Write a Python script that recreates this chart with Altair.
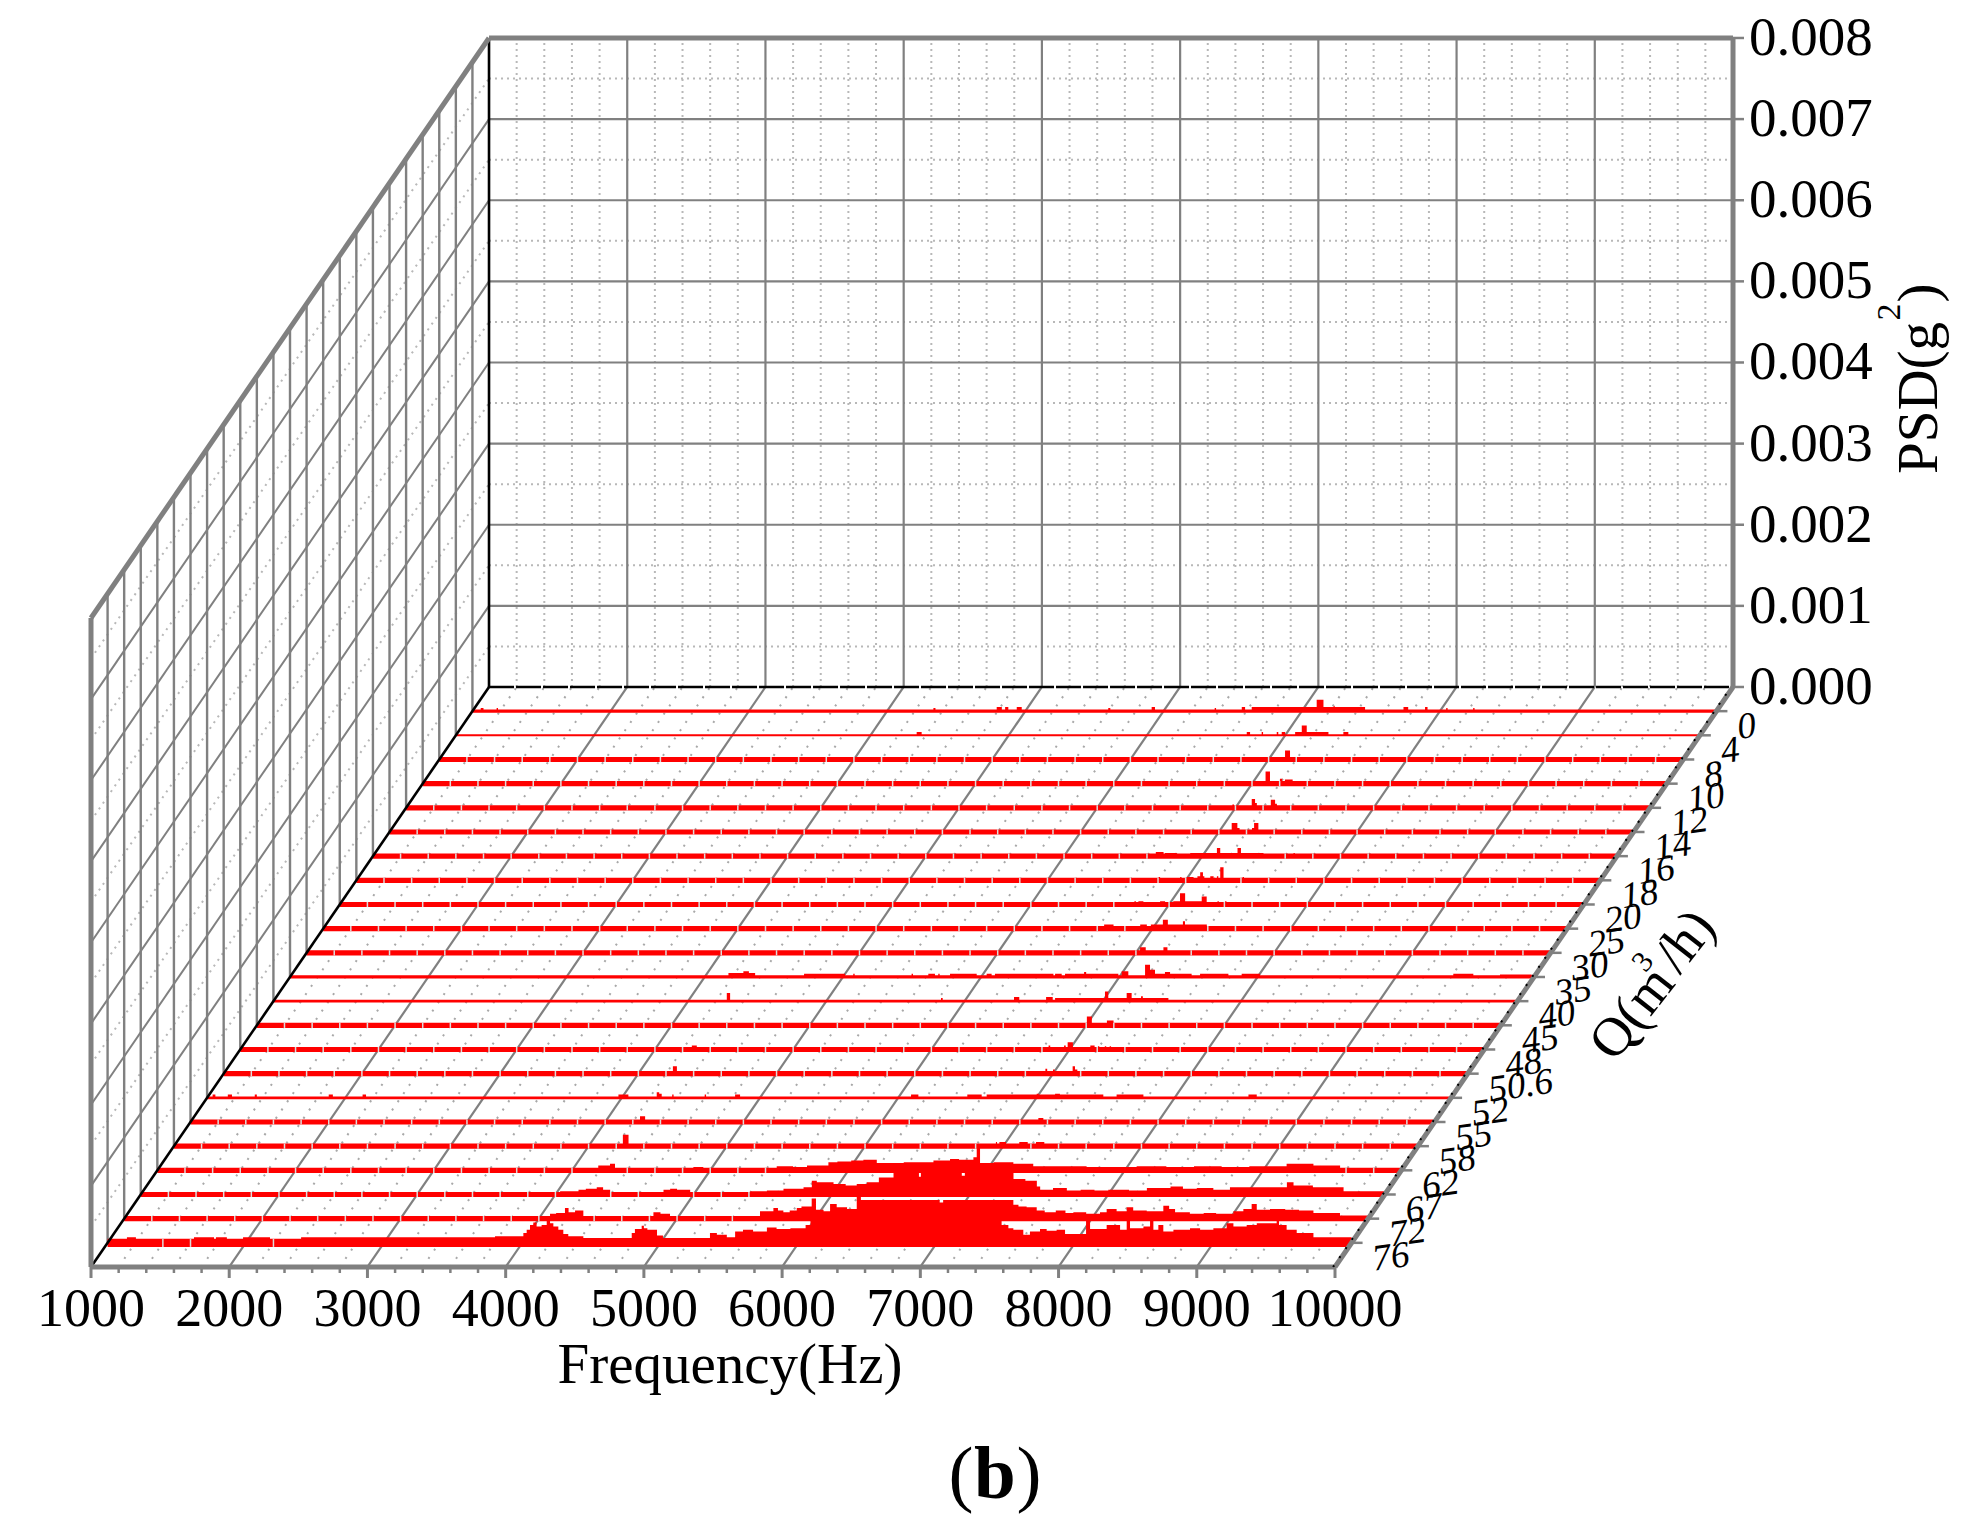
import altair as alt
import pandas as pd

# ---- Values -----------------------------------------------------------
freq_ticks = [1000, 2000, 3000, 4000, 5000, 6000, 7000, 8000, 9000, 10000]
psd_ticks = [0.000, 0.001, 0.002, 0.003, 0.004, 0.005, 0.006, 0.007, 0.008]
# flow rates, front row first
q_labels = ["76", "72", "67", "62", "58", "55", "52", "50.6", "48", "45", "40", "35",
            "30", "25", "20", "18", "16", "14", "12", "10", "8", "4", "0"]

# each spectrum: (from Hz, to Hz, PSD in 1e-5 g^2 above the row's floor level)
row_01 = [(1000,1140,5),(1140,1205,7),(1205,1625,5),(1625,1770,7),(1770,1784,5),(1784,1863,7),
          (1863,1980,5),(1980,2175,7),(2175,2400,5),(2400,3803,7),(3803,4008,8),(4008,4032,12),
          (4032,4056,16),(4056,4080,22),(4080,4104,25),(4104,4140,20),(4140,4177,22),(4177,4201,28),
          (4201,4225,24),(4225,4261,20),(4261,4297,16),(4297,4333,11),(4333,4442,8),(4442,4792,6),
          (4792,4815,12),(4815,4864,17),(4864,4880,21),(4880,4905,18),(4905,4935,16),(4935,4975,16),
          (4975,5018,9),(5018,5358,6),(5358,5408,12),(5408,5480,10),(5480,5540,7),(5540,5597,14),
          (5597,5670,16),(5670,5770,14),(5770,5840,19),(5840,5940,17),(5940,6050,18),(6050,6085,22),
          (6085,6118,28),(6118,6200,29),(6200,6300,36),(6300,6500,40),(6500,7000,46),(7000,7420,46),
          (7420,7468,28),(7468,7517,22),(7517,7553,18),(7553,7625,16),(7625,7673,10),(7673,7746,14),
          (7746,7794,17),(7794,7866,15),(7866,7927,16),(7927,8035,11),(8035,8079,11),(8079,8108,28),
          (8108,8228,17),(8228,8276,22),(8276,8325,22),(8325,8373,16),(8373,8397,28),(8397,8494,18),
          (8494,8542,20),(8542,8566,28),(8566,8602,16),(8602,8638,22),(8638,8711,14),(8711,8831,16),
          (8831,8904,18),(8904,9000,16),(9000,9096,18),(9096,9145,24),(9145,9241,20),(9241,9314,22),
          (9314,9458,24),(9458,9475,29),(9475,9530,22),(9530,9603,16),(9603,9724,12),(9724,10000,7)]
row_02 = [(4081,4125,6),(4125,4189,7),(4189,4215,13),(4215,4262,8),(4262,4322,10),(4829,4880,8),
          (4880,4949,6),(5600,5697,9),(5697,5730,13),(5730,5769,10),(5769,5815,8),(5815,5866,10),
          (5866,5900,13),(5900,5938,15),(5938,5974,15),(5974,6005,25),(6005,6060,11),(6060,6107,9),
          (6107,6155,18),(6155,6230,14),(6230,6300,12),(6300,6330,27),(6330,6900,23),(6900,6925,20),
          (6925,7433,23),(7433,7470,17),(7470,7529,15),(7529,7602,14),(7602,7660,10),(7660,7740,8),
          (7740,7810,10),(7810,7867,7),(7867,7960,8),(7960,8060,6),(8060,8108,8),(8108,8180,12),
          (8180,8253,9),(8253,8300,14),(8300,8398,10),(8398,8518,9),(8518,8560,16),(8560,8603,12),
          (8603,8710,8),(8710,8810,6),(8810,8900,7),(8900,9025,6),(9025,9097,9),(9097,9157,12),
          (9157,9194,18),(9194,9290,11),(9290,9400,12),(9400,9500,11),(9500,9604,10),(9604,9796,7),
          (9796,10000,4)]
row_03 = [(4034,4167,4),(4167,4220,6),(4220,4299,7),(4299,4345,9),(4345,4396,6),(4782,4830,6),
          (4830,4880,7),(4880,4975,6),(5409,5530,4),(5530,5650,5),(5650,5795,7),(5795,5855,9),
          (5855,5891,17),(5891,6012,15),(6012,6100,13),(6100,6180,11),(6180,6253,13),(6253,6340,15),
          (6340,6446,21),(6446,6630,27),(6630,6644,22),(6644,6940,27),(6940,6962,23),(6962,7314,27),
          (7314,7400,19),(7400,7483,17),(7483,7507,10),(7507,7600,6),(7600,7700,8),(7700,7800,5),
          (7800,7900,6),(7900,8000,5),(8000,8150,6),(8150,8279,5),(8279,8450,8),(8450,8540,10),
          (8540,8640,7),(8640,8760,8),(8760,8880,6),(8880,9002,9),(9002,9120,9),(9120,9292,9),
          (9292,9340,15),(9340,9480,11),(9480,9702,9),(9702,10000,4)]
row_04 = [(4190,4275,6),(4275,4311,8),(4878,4950,4),(5481,5600,5),(5600,5700,4),(5700,5855,6),
          (5855,5920,10),(5920,6020,11),(6020,6108,12),(6108,6205,13),(6205,6400,9),(6400,6615,10),
          (6615,6735,12),(6735,6800,14),(6800,6904,13),(6904,6928,16),(6928,6952,28),(6952,7050,9),
          (7050,7193,10),(7193,7337,8),(7337,7500,5),(7500,7723,5),(7723,8085,4),(8085,8300,5),
          (8300,8500,4),(8500,8700,5),(8700,8900,4),(8900,9170,5),(9170,9364,8),(9364,9557,6)]
row_05 = [(4248,4289,14),(6947,6955,5),(6972,7020,5),(7116,7177,5),(7237,7297,5)]
row_06 = [(4252,4289,7),(7134,7170,5)]
row_07 = [(1040,1060,4),(1150,1180,4),(1345,1360,4),(1880,1910,4),(2125,2150,4),(3976,4048,4),
          (4253,4271,7),(4271,4289,5),(4365,4375,4),(4600,4610,4),(4820,4856,4),(6093,6146,4),
          (6500,6604,4),(6640,7002,4),(7002,7016,5),(7016,7135,4),(7135,7170,5),(7170,7484,4),
          (7580,7774,4),(8534,8594,4)]
row_08 = [(4250,4279,9),(6945,6958,6),(7000,7012,5),(7142,7159,9),(7159,7176,5)]
row_09 = [(4267,4303,5),(6848,6860,5),(6960,6972,5),(6986,7024,9),(7150,7181,5),(7205,7215,4),
          (7255,7265,4),(7290,7300,4)]
row_10 = [(7005,7041,11),(7150,7198,6)]
row_11 = [(4280,4304,10),(5830,5842,4),(6358,6396,5),(6590,6638,5),(6655,7016,4),(7016,7040,12),
          (7040,7173,4),(7173,7209,10),(7209,7277,4),(7277,7290,6),(7290,7475,4)]
row_12 = [(4172,4280,5),(4280,4320,7),(4320,4365,5),(4719,5016,4),(5075,5085,4),(5497,5507,4),
          (5618,5666,4),(5690,5700,4),(5775,5968,4),(6040,6076,4),(6100,6523,4),(6535,6583,4),
          (6607,6745,4),(6745,6760,6),(6760,6993,4),(7017,7065,7),(7186,7222,15),(7222,7258,9),
          (7258,7330,4),(7330,7367,6),(7367,7523,4),(7584,7789,4),(7885,8018,4),(9416,9561,4),
          (9754,9983,3)]
row_13 = [(7030,7071,7),(7199,7228,7)]
row_14 = [(6650,6718,5),(6911,6959,5),(6988,7075,5),(7075,7111,11),(7111,7220,5),(7220,7235,9),
          (7235,7393,5)]
row_15 = [(6749,6760,4),(6778,6814,4),(6935,6971,4),(7030,7079,4),(7079,7116,14),(7116,7236,4),
          (7236,7272,10),(7350,7360,4),(7405,7415,4)]
row_16 = [(6804,6815,4),(6960,6970,4),(7009,7057,4),(7085,7105,5),(7105,7125,10),(7125,7135,5),
          (7178,7202,5),(7226,7236,5),(7250,7274,16),(7412,7422,4)]
row_17 = [(6664,6720,5),(6730,6816,4),(6913,7106,4),(7106,7130,10),(7130,7255,4),(7255,7280,10),
          (7280,7443,4),(7660,7670,4)]
row_18 = [(7093,7134,11),(7134,7150,5),(7240,7255,5),(7255,7286,11)]
row_19 = [(6978,6990,4),(7118,7142,11),(7142,7155,6),(7256,7287,10),(7287,7300,5)]
row_20 = [(7098,7130,15),(7202,7219,6),(7238,7294,5)]
row_21 = [(7119,7155,11)]
row_22 = [(4334,4370,4),(6722,6746,4),(6830,6840,4),(6939,6950,4),(6975,7000,4),(7072,7120,4),
          (7120,7156,12),(7156,7313,4),(7421,7457,4)]
row_23 = [(1060,1080,4),(1175,1185,4),(4335,4350,4),(4793,4830,5),(4854,4877,5),(4938,4974,5),
          (5600,5615,4),(5914,5938,5),(6370,6380,4),(6566,6590,5),(6638,7108,5),(7108,7157,14),
          (7157,7230,5),(7230,7240,6),(7240,7458,5),(7736,7770,5),(7892,7910,5),(8045,8055,4),
          (8240,8250,4)]
rows = [row_01,row_02,row_03,row_04,row_05,row_06,row_07,row_08,row_09,row_10,row_11,row_12,
        row_13,row_14,row_15,row_16,row_17,row_18,row_19,row_20,row_21,row_22,row_23]
# half-thickness of each spectrum's base line (1e-5 g^2)
base_half = [5.0,3.2,3.2,3.2,3.2,3.2,1.7,3.2,3.2,3.2,1.8,2.0,
             3.2,3.2,3.2,3.2,3.2,3.2,3.2,3.2,3.2,1.3,2.0]

# ---- Oblique projection onto the plane of the plot --------------------
F0, F1, P_TOP = 1000, 10000, 0.008
DX, DY = 2879.5, 0.0071495           # back of the floor relative to its front, Hz / g^2
N = 24                               # depth slots on the floor
SCALE_X = alt.Scale(domain=[399.5, 399.5 + 14209], nice=False, zero=False)
SCALE_Y = alt.Scale(domain=[-0.0030817, 0.015519], nice=False, zero=False)
HZ_PX, PSD_PX = 7.235, 1 / 81125.0


def px(f, d):
    return f + d * DX


def py(p, d):
    return p + d * DY


def seg(f1, d1, p1, f2, d2, p2):
    return dict(x=px(f1, d1), y=py(p1, d1), x2=px(f2, d2), y2=py(p2, d2))


def rules(items, color, width, dash=None):
    kw = dict(color=color, strokeWidth=width)
    if dash:
        kw["strokeDash"] = dash
    return alt.Chart(pd.DataFrame(items)).mark_rule(**kw).encode(
        x=alt.X("x:Q", scale=SCALE_X, axis=None), x2="x2:Q",
        y=alt.Y("y:Q", scale=SCALE_Y, axis=None), y2="y2:Q")


def label(text, x, y, size, angle=0, align="center", weight="normal"):
    return alt.Chart(pd.DataFrame([dict(t=text, x=x, y=y)])).mark_text(
        font="Liberation Serif", fontSize=size, angle=angle, align=align,
        baseline="middle", color="black", fontWeight=weight).encode(
        x=alt.X("x:Q", scale=SCALE_X, axis=None),
        y=alt.Y("y:Q", scale=SCALE_Y, axis=None), text="t:N")


GRAY = "#808080"
DOT = "#b8b8b8"
minor_f = [f for f in range(F0 + 200, F1, 200) if f % 1000 != 0]
major_f = freq_ticks[1:-1]
major_p = psd_ticks[1:-1]
minor_p = [p + 0.0005 for p in psd_ticks[:-1]]
row_d = [k / N for k in range(1, N)]

layers = []
# back wall
layers.append(rules([seg(f, 1, 0, f, 1, P_TOP) for f in minor_f], DOT, 2, [2, 4]))
layers.append(rules([seg(F0, 1, p, F1, 1, p) for p in minor_p], DOT, 2, [2, 4]))
layers.append(rules([seg(f, 1, 0, f, 1, P_TOP) for f in major_f], GRAY, 2.2))
layers.append(rules([seg(F0, 1, p, F1, 1, p) for p in major_p], GRAY, 2.2))
# left wall
layers.append(rules([seg(F0, 0, p, F0, 1, p) for p in minor_p], DOT, 2, [2, 5]))
layers.append(rules([seg(F0, 0, p, F0, 1, p) for p in major_p], GRAY, 2))
layers.append(rules([seg(F0, d, 0, F0, d, P_TOP) for d in row_d], GRAY, 2.4))
# floor
layers.append(rules([seg(f, 0, 0, f, 1, 0) for f in minor_f], "#a8a8a8", 2, [2, 8]))
layers.append(rules([seg(f, 0, 0, f, 1, 0) for f in major_f], GRAY, 2.2))

# spectra
records, gaps = [], []
for k, (row, half) in enumerate(zip(rows, base_half), start=1):
    d = k / N
    pts = {F0: 0, F1: 0}
    for a, b, v in sorted(row):
        pts.setdefault(b, 0)
        pts[a] = v
    fs = sorted(pts)
    for f in fs:
        v = pts[f]
        top = max(v, half) * 1e-5
        records.append(dict(row=k, x=px(f, d), y=py(top, d), y2=py(-half * 1e-5, d)))
    if half > 2:
        for f in range(F0 + 200, F1, 200):
            cur = 0
            for g in fs:
                if g <= f:
                    cur = pts[g]
            if cur <= half:
                gaps.append(seg(f, d, -half * 1e-5, f, d, half * 1e-5))

spectra = alt.Chart(pd.DataFrame(records)).mark_area(
    color="#ff0000", interpolate="step-after", opacity=1).encode(
    x=alt.X("x:Q", scale=SCALE_X, axis=None),
    y=alt.Y("y:Q", scale=SCALE_Y, axis=None), y2="y2:Q", detail="row:N")
layers.append(spectra)
layers.append(rules(gaps, "#dcdcdc", 1.5))

# edges
layers.append(rules([seg(F0, 1, 0, F0, 1, P_TOP)], "black", 2.6))
layers.append(rules([seg(F0, 1, 0, F1, 1, 0)], "black", 2.4, [25, 2]))
layers.append(rules([seg(F0, 0, 0, F0, 1, 0)], "black", 2.6))
thick = [seg(F0, 0, 0, F1, 0, 0), seg(F1, 0, 0, F1, 1, 0), seg(F0, 0, P_TOP, F0, 1, P_TOP),
         seg(F0, 1, P_TOP, F1, 1, P_TOP), seg(F1, 1, 0, F1, 1, P_TOP), seg(F0, 0, 0, F0, 0, P_TOP)]
layers.append(rules(thick, GRAY, 5))
layers.append(rules([seg(F1 - 14, 0, 0, F1 - 14, 1, 0)], "black", 2, [2, 9]))

# ticks
tick_down, tick_down_minor = 11 * PSD_PX, 6 * PSD_PX
tick_right = 11 * HZ_PX
layers.append(rules([seg(f, 0, 0, f, 0, -tick_down) for f in freq_ticks], GRAY, 3))
layers.append(rules([seg(f, 0, 0, f, 0, -tick_down_minor) for f in minor_f], GRAY, 2.5))
layers.append(rules([seg(F1, 1, p, F1 + tick_right, 1, p) for p in psd_ticks], GRAY, 2.5))
layers.append(rules([seg(F1, d, 0, F1 + tick_right, d, 0) for d in row_d], GRAY, 2.5))

# tick labels
x_lab = pd.DataFrame(dict(t=[str(f) for f in freq_ticks], x=freq_ticks,
                          y=[-0.00053] * len(freq_ticks)))
layers.append(alt.Chart(x_lab).mark_text(font="Liberation Serif", fontSize=54, color="black",
                                         baseline="middle", align="center").encode(
    x=alt.X("x:Q", scale=SCALE_X, axis=None), y=alt.Y("y:Q", scale=SCALE_Y, axis=None), text="t:N"))
y_lab = pd.DataFrame(dict(t=[f"{p:.3f}" for p in psd_ticks], x=[12996] * len(psd_ticks),
                          y=[py(p, 1) for p in psd_ticks]))
layers.append(alt.Chart(y_lab).mark_text(font="Liberation Serif", fontSize=55, color="black",
                                         baseline="middle", align="left").encode(
    x=alt.X("x:Q", scale=SCALE_X, axis=None), y=alt.Y("y:Q", scale=SCALE_Y, axis=None), text="t:N"))
q_lab = pd.DataFrame(dict(t=q_labels,
                          x=[px(F1, d) + 21 * HZ_PX for d in row_d],
                          y=[py(0, d) - 17 * PSD_PX for d in row_d]))
layers.append(alt.Chart(q_lab).mark_text(font="Liberation Serif", fontSize=37, color="black",
                                         fontStyle="italic", baseline="middle", align="left",
                                         angle=352).encode(
    x=alt.X("x:Q", scale=SCALE_X, axis=None), y=alt.Y("y:Q", scale=SCALE_Y, axis=None), text="t:N"))

# titles
layers.append(label("Frequency(Hz)", 5623, -0.00122, 57))
layers.append(label("PSD(g", 14233, 0.010712, 57, angle=270))
layers.append(label("2", 14016, 0.011772, 34, angle=270))
layers.append(label(")", 14233, 0.012006, 57, angle=270))
layers.append(label("Q(m", 12149, 0.003131, 55, angle=308))
layers.append(label("3", 12228, 0.00376, 30, angle=308))
layers.append(label("/h)", 12533, 0.004018, 55, angle=308))
layers.append(label("(", 7294, -0.002564, 75))
layers.append(label("b", 7540, -0.002564, 75, weight="bold"))
layers.append(label(")", 7786, -0.002564, 75))

chart = alt.layer(*layers).properties(
    width=1964, height=1509, padding=0, background="white",
    autosize=alt.AutoSizeParams(type="none")
).configure_view(stroke=None)

chart.save("out.html", embed_options={"renderer": "svg", "actions": False})
